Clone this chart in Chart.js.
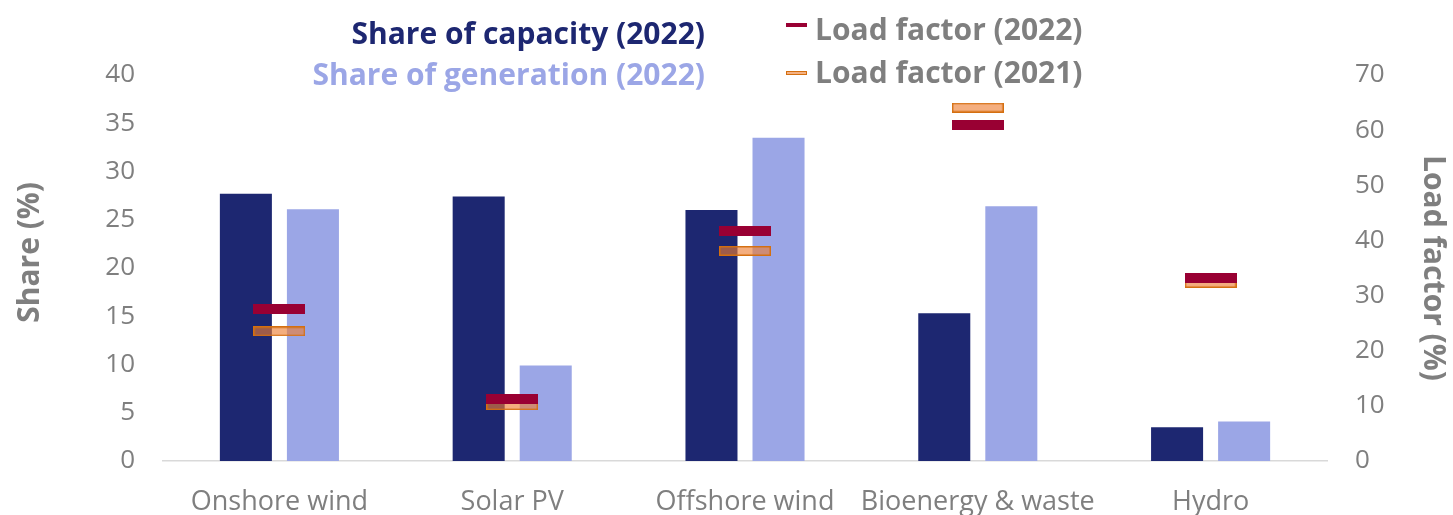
<!DOCTYPE html>
<html>
<head>
<meta charset="utf-8">
<script src="https://cdn.jsdelivr.net/npm/chart.js@4/dist/chart.umd.min.js"></script>
<style>
  html, body { margin: 0; padding: 0; background: #fff; }
  #wrap { position: relative; width: 1453px; height: 515px; font-family: 'Open Sans', sans-serif; }
  #chart { position: absolute; left: 0; top: 0; }
  .lg { position: absolute; font-weight: bold; font-size: 30px; line-height: 34px; white-space: nowrap; }
  .lg.left { right: 748px; text-align: right; }
  .lg.right { left: 815px; color: #7f7f7f; }
  .key { position: absolute; left: 786px; width: 21px; }
</style>
</head>
<body>
<div id="wrap">
  <canvas id="chart" width="1453" height="515"></canvas>
  <div class="lg left" style="top:16px;color:#1d2771;">Share of capacity (2022)</div>
  <div class="lg left" style="top:57px;color:#9ba6e6;">Share of generation (2022)</div>
  <span class="key" style="top:23px;height:4px;background:#990033;"></span>
  <div class="lg right" style="top:12px;">Load factor (2022)</div>
  <span class="key" style="top:71px;height:2px;background:rgba(237,125,49,0.6);border:1px solid #d46f10;width:19px;"></span>
  <div class="lg right" style="top:55px;">Load factor (2021)</div>
</div>
<script>
(function(){
  'use strict';

  // values
  const categories = ['Onshore wind', 'Solar PV', 'Offshore wind', 'Bioenergy & waste', 'Hydro'];
  const shareCapacity = [27.7, 27.4, 26.0, 15.3, 3.5];
  const shareGeneration = [26.1, 9.9, 33.5, 26.4, 4.1];
  const loadFactor2022 = [27.6, 11.2, 41.7, 61.0, 33.2];
  const loadFactor2021 = [23.5, 10.1, 38.1, 64.1, 32.3];
  const shareTicks = [0, 5, 10, 15, 20, 25, 30, 35, 40];
  const loadTicks = [0, 10, 20, 30, 40, 50, 60, 70];

  const gray = '#7f7f7f';
  const font = 'Open Sans';

  // little rectangles used as point markers for load factor
  function marker(fill, stroke, w, h) {
    const c = document.createElement('canvas');
    c.width = w;
    c.height = h;
    const g = c.getContext('2d');
    g.fillStyle = fill;
    g.fillRect(0, 0, w, h);
    if (stroke) {
      g.strokeStyle = stroke;
      g.lineWidth = 1.5;
      g.strokeRect(0.75, 0.75, w - 1.5, h - 1.5);
    }
    return c;
  }

  const ctx = document.getElementById('chart').getContext('2d');
  new Chart(ctx, {
    type: 'bar',
    data: {
      labels: categories,
      datasets: [
        {
          label: 'Load factor (2022)',
          type: 'line',
          data: loadFactor2022,
          yAxisID: 'y1',
          showLine: false,
          pointStyle: marker('#990033', null, 52, 10),
          pointRadius: 5,
          order: 0
        },
        {
          label: 'Load factor (2021)',
          type: 'line',
          data: loadFactor2021,
          yAxisID: 'y1',
          showLine: false,
          pointStyle: marker('rgba(237,125,49,0.62)', '#d46f10', 52, 10),
          pointRadius: 5,
          order: 1
        },
        {
          label: 'Share of capacity (2022)',
          data: shareCapacity,
          yAxisID: 'y',
          backgroundColor: '#1d2771',
          categoryPercentage: 0.576,
          barPercentage: 0.776,
          order: 2
        },
        {
          label: 'Share of generation (2022)',
          data: shareGeneration,
          yAxisID: 'y',
          backgroundColor: '#9ba6e6',
          categoryPercentage: 0.576,
          barPercentage: 0.776,
          order: 2
        }
      ]
    },
    options: {
      responsive: false,
      animation: false,
      events: [],
      layout: { padding: { top: 75, left: 0, right: 0, bottom: 0 } },
      plugins: {
        legend: { display: false },
        tooltip: { enabled: false }
      },
      scales: {
        x: {
          grid: { display: false },
          border: { display: true, color: '#d9d9d9', width: 1.5 },
          ticks: { color: gray, font: { family: font, size: 27 }, padding: 17, maxRotation: 0, autoSkip: false },
          afterFit: function(s) { s.height = 54; }
        },
        y: {
          position: 'left',
          min: 0,
          max: 40,
          grid: { display: false },
          border: { display: false },
          afterBuildTicks: function(s) { s.ticks = shareTicks.map(v => ({ value: v })); },
          ticks: { color: gray, font: { family: font, size: 26 }, padding: 20 },
          // leading spaces push the title a little upward, as in the original
          title: { display: true, text: '\u00a0\u00a0\u00a0\u00a0Share (%)', color: gray, font: { family: font, size: 30, weight: 'bold' }, padding: { top: 12, bottom: 0 } },
          afterFit: function(s) { s.width = 163; }
        },
        y1: {
          position: 'right',
          min: 0,
          max: 70,
          grid: { display: false },
          border: { display: false },
          afterBuildTicks: function(s) { s.ticks = loadTicks.map(v => ({ value: v })); },
          ticks: { color: gray, font: { family: font, size: 26 }, padding: 20 },
          title: { display: true, text: 'Load factor (%)', color: gray, font: { family: font, size: 30, weight: 'bold' }, padding: { top: 2, bottom: 0 } },
          afterFit: function(s) { s.width = 126; }
        }
      }
    }
  });
})();
</script>
</body>
</html>
